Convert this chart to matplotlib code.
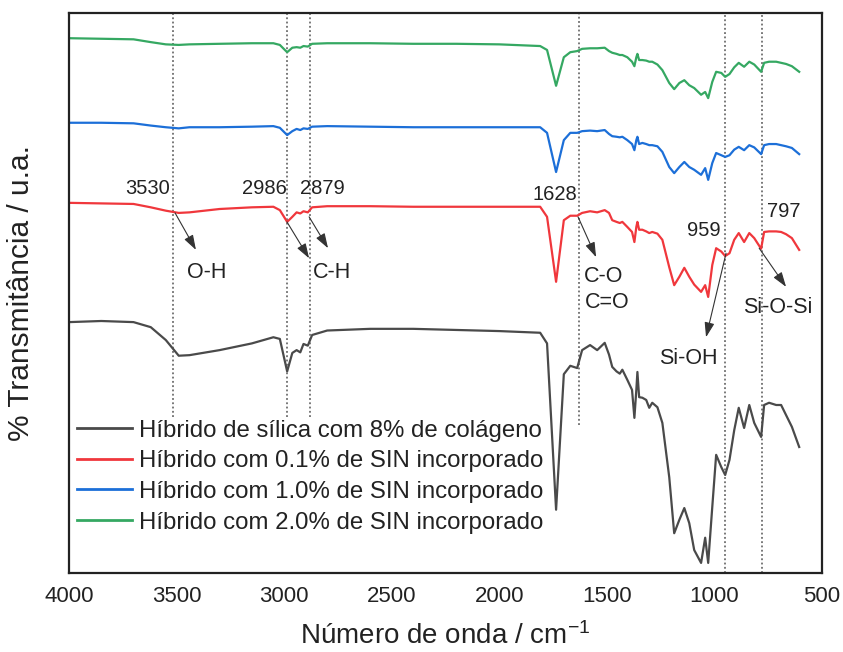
import matplotlib
matplotlib.use("Agg")
import matplotlib.pyplot as plt

plt.rcParams['font.family'] = ['Liberation Sans', 'DejaVu Sans']
plt.rcParams['mathtext.fontset'] = 'custom'
plt.rcParams['mathtext.rm'] = 'Liberation Sans'
plt.rcParams['mathtext.default'] = 'regular'

# ---------------- data ----------------
wavenumber = [4000, 3850, 3700, 3620, 3550, 3490, 3440, 3300, 3150, 3050, 3020, 2986,
              2962, 2942, 2925, 2910, 2890, 2870, 2800, 2600, 2400, 2200, 2000, 1810,
              1778, 1736, 1700, 1670, 1638, 1615, 1578, 1545, 1510, 1490, 1475, 1455,
              1440, 1428, 1405, 1383, 1372, 1363, 1358, 1350, 1335, 1317, 1303, 1289,
              1265, 1242, 1210, 1187, 1163, 1140, 1117, 1094, 1062, 1043, 1029, 1010,
              992, 968, 950, 930, 908, 887, 862, 838, 815, 783, 769, 746, 713, 690,
              667, 640, 606]

hibrido_8_colageno = [44.8, 45.0, 44.8, 43.9, 41.6, 38.8, 38.9, 39.8, 41.0, 42.1, 41.8, 36.0,
                      39.3, 39.8, 39.4, 40.9, 40.6, 42.5, 43.3, 43.6, 43.6, 43.4, 43.2, 42.9,
                      41.0, 11.3, 35.5, 37.0, 36.6, 39.8, 40.7, 39.8, 41.1, 39.0, 36.8, 36.0,
                      35.6, 36.3, 34.5, 32.7, 27.7, 32.7, 35.9, 31.4, 31.3, 30.9, 29.5, 30.4,
                      29.6, 26.8, 17.1, 7.1, 9.5, 11.6, 8.9, 4.1, 1.8, 6.3, 1.8, 11.8,
                      21.1, 18.9, 17.5, 20.2, 25.5, 29.5, 25.9, 30.0, 26.8, 24.3, 30.0, 30.4,
                      30.0, 30.0, 28.2, 26.1, 22.5]

sin_0_1 = [66.1, 66.0, 65.9, 65.3, 64.7, 64.3, 64.4, 65.0, 65.3, 65.4, 64.8, 62.7,
           63.6, 64.4, 64.2, 64.6, 64.4, 65.3, 65.5, 65.5, 65.4, 65.4, 65.4, 65.4,
           63.6, 52.0, 63.0, 63.8, 63.8, 64.3, 64.6, 64.4, 64.8, 64.3, 63.0, 62.7,
           62.5, 62.7, 61.8, 60.9, 59.1, 61.8, 62.7, 61.3, 61.3, 61.0, 60.7, 60.9,
           60.6, 59.5, 54.6, 51.4, 52.9, 54.5, 52.9, 51.5, 50.2, 51.4, 49.3, 55.0,
           58.0, 57.4, 56.6, 57.1, 59.5, 60.7, 59.1, 60.7, 59.8, 57.9, 60.9, 61.0,
           61.0, 60.9, 60.5, 59.8, 57.7]

sin_1_0 = [80.4, 80.4, 80.3, 79.9, 79.6, 79.4, 79.6, 79.6, 79.7, 79.8, 79.5, 78.2,
           78.9, 79.3, 79.1, 79.4, 79.3, 79.7, 79.8, 79.7, 79.6, 79.6, 79.6, 79.6,
           78.6, 71.6, 77.3, 78.6, 78.6, 78.9, 79.0, 78.9, 79.1, 78.4, 78.0, 77.9,
           77.8, 77.9, 77.3, 76.6, 75.5, 77.3, 77.9, 76.6, 76.8, 76.6, 76.4, 76.4,
           76.2, 75.2, 72.5, 71.4, 72.5, 73.4, 72.5, 72.0, 71.1, 72.3, 70.2, 73.2,
           75.0, 74.6, 74.3, 74.6, 75.6, 76.1, 75.5, 76.4, 76.0, 74.8, 76.4, 76.6,
           76.6, 76.4, 76.2, 75.9, 74.8]

sin_2_0 = [95.5, 95.4, 95.3, 94.8, 94.4, 94.3, 94.4, 94.5, 94.6, 94.6, 94.3, 93.0,
           93.8, 93.9, 93.8, 94.1, 94.0, 94.5, 94.6, 94.6, 94.5, 94.5, 94.4, 94.1,
           93.4, 87.0, 92.1, 93.0, 93.2, 93.6, 93.7, 93.7, 93.8, 93.2, 92.9, 92.7,
           92.5, 92.5, 92.1, 91.3, 90.5, 92.1, 92.7, 91.6, 91.6, 91.5, 91.3, 91.3,
           90.8, 89.8, 87.5, 86.4, 87.5, 88.0, 87.1, 86.6, 85.4, 85.9, 84.8, 87.7,
           89.5, 89.3, 88.6, 89.1, 90.3, 91.1, 90.4, 91.3, 90.8, 89.5, 91.1, 91.3,
           91.3, 91.1, 90.9, 90.5, 89.5]

series_labels = ["Híbrido de sílica com 8% de colágeno",
                 "Híbrido com 0.1% de SIN incorporado",
                 "Híbrido com 1.0% de SIN incorporado",
                 "Híbrido com 2.0% de SIN incorporado"]
series_colors = ["#4a4a4a", "#f0373c", "#1c6fd8", "#35a862"]

# band markers: (line position, label, line bottom)
peak_positions = [3515, 2986, 2879, 1628, 950, 778]
peak_labels = ["3530", "2986", "2879", "1628", "959", "797"]
peak_line_bottom = [27.9, 27.9, 27.9, 26.4, 0, 0]

xticks = [4000, 3500, 3000, 2500, 2000, 1500, 1000, 500]

# ---------------- figure ----------------
fig = plt.figure(figsize=(8.43, 6.52), dpi=100)
ax = fig.add_axes([69/843, 1 - 573/652, (822 - 69)/843, (573 - 13)/652])

for ys, lab, col in zip([hibrido_8_colageno, sin_0_1, sin_1_0, sin_2_0],
                        series_labels, series_colors):
    ax.plot(wavenumber, ys, color=col, lw=1.6, label=lab, solid_joinstyle='round')

for pos, bot in zip(peak_positions, peak_line_bottom):
    ax.plot([pos, pos], [bot, 100], color='#555555', lw=1.1, ls=(0, (1.2, 1.6)), zorder=1)

ax.set_xlim(4000, 500)
ax.set_ylim(0, 100)
ax.set_xticks(xticks)
ax.set_xticklabels([str(t) for t in xticks])
ax.set_yticks([])
ax.tick_params(axis='x', length=0, pad=9, labelsize=16, colors='#222222')
for s in ax.spines.values():
    s.set_linewidth(1.6)
    s.set_color('#222222')

ax.set_xlabel('Número de onda / cm$^{-1}$', fontsize=20, color='#222222')
ax.xaxis.set_label_coords(0.5, -0.087)
ax.set_ylabel('% Transmitância / u.a.', fontsize=21.5, color='#222222')
ax.yaxis.set_label_coords(-0.045, 0.5)

tfs = 14.5
txt_kw = dict(fontsize=tfs, ha='center', va='center', color='#222222')
ax.text(3637, 68.75, peak_labels[0], **txt_kw)
ax.text(3093, 68.75, peak_labels[1], **txt_kw)
ax.text(2824, 68.75, peak_labels[2], **txt_kw)
ax.text(1741, 67.5, peak_labels[3], **txt_kw)
ax.text(1048, 61.25, peak_labels[4], **txt_kw)
ax.text(676, 64.5, peak_labels[5], **txt_kw)

lfs = 15.5
lab_kw = dict(fontsize=lfs, ha='center', va='center', color='#222222')
ax.text(3358, 53.6, 'O-H', **lab_kw)
ax.text(2777, 53.6, 'C-H', **lab_kw)
ax.text(1513, 53.0, 'C-O', **lab_kw)
ax.text(1499, 48.3, 'C=O', **lab_kw)
ax.text(1122, 38.3, 'Si-OH', **lab_kw)
ax.text(704, 47.4, 'Si-O-Si', **lab_kw)

arrow_kw = dict(arrowstyle='-|>,head_length=0.9,head_width=0.3', color='#333333', lw=0.8,
                shrinkA=0, shrinkB=0)
arrows = [((3507, 64.3), (3410, 57.7)),
          ((2987, 62.7), (2884, 56.2)),
          ((2884, 63.6), (2796, 58.0)),
          ((1634, 63.6), (1550, 56.4)),
          ((946, 57.1), (1039, 42.1)),
          ((792, 58.0), (667, 51.1))]
for start, end in arrows:
    ax.annotate('', xy=end, xytext=start, arrowprops=arrow_kw)

leg = ax.legend(loc='upper left', bbox_to_anchor=(0.0106, 0.274), frameon=False,
                fontsize=17.3, handlelength=2.3, handletextpad=0.28, labelspacing=0.36,
                borderpad=0, borderaxespad=0)
for t in leg.get_texts():
    t.set_color('#222222')
for l in leg.get_lines():
    l.set_linewidth(2.0)

fig.savefig('out.png', dpi=100)
